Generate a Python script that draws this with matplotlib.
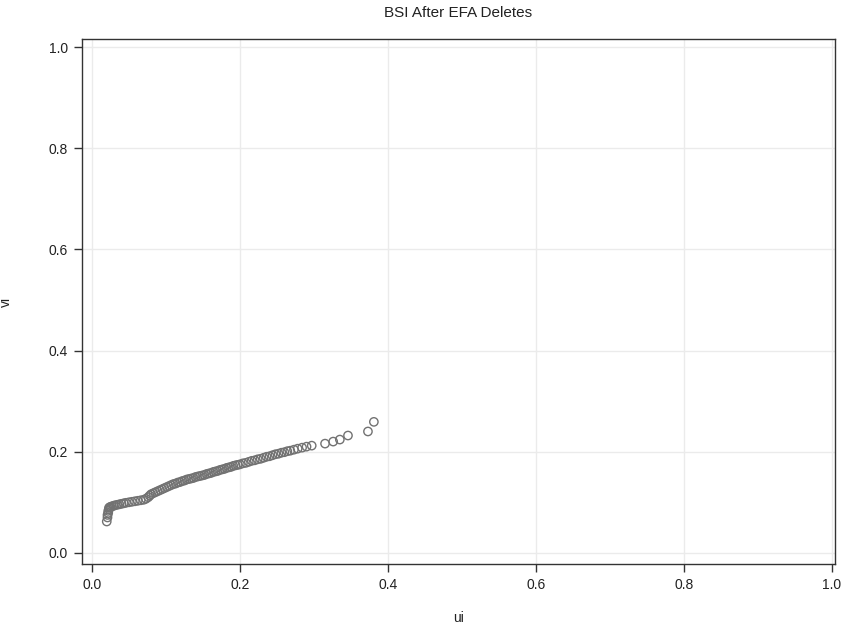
import matplotlib
matplotlib.use("Agg")
import matplotlib.pyplot as plt

ui = [0.020, 0.021, 0.021, 0.022, 0.022, 0.023, 0.023, 0.024, 0.025, 0.027,
      0.029, 0.031, 0.034, 0.037, 0.040, 0.043, 0.046, 0.050, 0.054, 0.058,
      0.062, 0.066, 0.070, 0.073, 0.076, 0.078, 0.080, 0.083, 0.086, 0.089,
      0.092, 0.095, 0.098, 0.101, 0.104, 0.107, 0.110, 0.113, 0.116, 0.119,
      0.122, 0.125, 0.128, 0.131, 0.134, 0.137, 0.140, 0.143, 0.146, 0.149,
      0.152, 0.155, 0.158, 0.161, 0.164, 0.167, 0.170, 0.173, 0.176, 0.179,
      0.182, 0.185, 0.188, 0.191, 0.194, 0.197, 0.200, 0.204, 0.208, 0.212,
      0.216, 0.220, 0.224, 0.228, 0.232, 0.236, 0.240, 0.244, 0.248, 0.252,
      0.256, 0.260, 0.264, 0.268, 0.273, 0.278, 0.284, 0.290, 0.297, 0.315,
      0.326, 0.335, 0.346, 0.373, 0.381]
vi = [0.062, 0.070, 0.075, 0.079, 0.083, 0.086, 0.089, 0.090, 0.091, 0.092,
      0.093, 0.094, 0.095, 0.096, 0.097, 0.098, 0.099, 0.100, 0.101, 0.102,
      0.103, 0.104, 0.105, 0.107, 0.110, 0.113, 0.116, 0.118, 0.120, 0.122,
      0.124, 0.126, 0.128, 0.130, 0.132, 0.134, 0.136, 0.137, 0.139, 0.140,
      0.142, 0.143, 0.145, 0.146, 0.147, 0.148, 0.150, 0.151, 0.152, 0.153,
      0.154, 0.156, 0.157, 0.158, 0.160, 0.161, 0.162, 0.164, 0.165, 0.166,
      0.168, 0.169, 0.170, 0.172, 0.173, 0.174, 0.175, 0.177, 0.178, 0.180,
      0.182, 0.183, 0.185, 0.186, 0.188, 0.190, 0.191, 0.193, 0.195, 0.196,
      0.198, 0.199, 0.201, 0.202, 0.204, 0.206, 0.208, 0.210, 0.212, 0.216,
      0.220, 0.224, 0.232, 0.240, 0.259]

ticks = [0.0, 0.2, 0.4, 0.6, 0.8, 1.0]
tick_labels = ["0.0", "0.2", "0.4", "0.6", "0.8", "1.0"]

plt.rcParams['font.family'] = ['Liberation Sans', 'DejaVu Sans']

fig = plt.figure(figsize=(8.45, 6.3), dpi=100)
ax = fig.add_axes([0.097, 0.105, 0.891, 0.833])

ax.scatter(ui, vi, s=36, facecolors='none', edgecolors='#727272', linewidths=1.0, zorder=3)

ax.set_xlim(-0.0135, 1.004)
ax.set_ylim(-0.0217, 1.0158)
ax.set_xticks(ticks)
ax.set_xticklabels(tick_labels)
ax.set_yticks(ticks)
ax.set_yticklabels(tick_labels)
ax.grid(True, color='#ebebeb', linewidth=1.0, zorder=0)
ax.set_axisbelow(True)
for sp in ax.spines.values():
    sp.set_color('#333333')
    sp.set_linewidth(1.0)
ax.tick_params(direction='out', length=6, width=1, color='#333333',
               labelsize=10, labelcolor='#222222', pad=4)
ax.set_xlabel('ui', fontsize=10, color='#222222', labelpad=14)
ax.set_ylabel('vi', fontsize=10, color='#222222', labelpad=26)
ax.set_title('BSI After EFA Deletes', fontsize=11, color='#222222', pad=16)

fig.savefig('out.png', dpi=100)
